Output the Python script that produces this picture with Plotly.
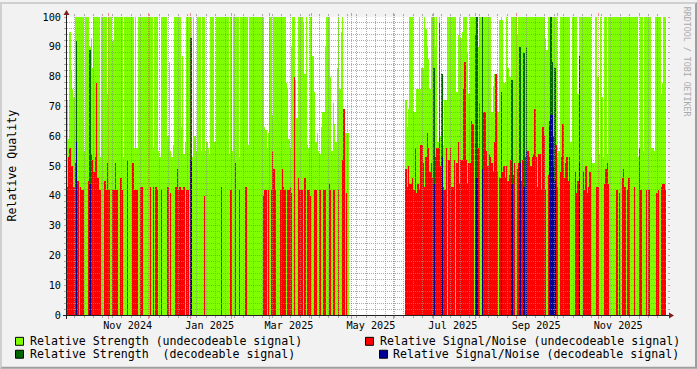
import plotly.graph_objects as go
import pandas as pd

# ---------------- data (daily values) ----------------
START = "2024-10-01"
GAP_DAYS = 42  # 2025-04-29 .. 2025-06-09 : no data

# Relative Strength (undecodeable signal), 2024-10-01 .. 2025-04-28
strength_oct24_apr25 = [
    72, 59, 95, 82, 76, 73, 100, 100, 100, 100,
    100, 100, 100, 55, 100, 100, 100, 90, 93, 83,
    100, 100, 100, 100, 100, 53, 100, 100, 100, 100,
    74, 100, 100, 100, 92, 100, 100, 100, 100, 100,
    100, 100, 53, 100, 100, 100, 100, 100, 100, 100,
    56, 100, 56, 100, 100, 100, 100, 100, 100, 100,
    100, 100, 100, 100, 56, 100, 100, 100, 55, 53,
    100, 100, 100, 100, 100, 60, 85, 55, 53, 57,
    100, 100, 100, 100, 100, 63, 87, 54, 58, 100,
    100, 100, 100, 53, 100, 60, 55, 100, 100, 100,
    55, 100, 100, 55, 58, 56, 54, 100, 100, 100,
    58, 100, 100, 100, 100, 100, 100, 100, 100, 100,
    100, 54, 100, 55, 100, 100, 100, 100, 53, 100,
    100, 100, 100, 100, 100, 57, 100, 100, 100, 100,
    100, 100, 100, 100, 100, 100, 100, 63, 62, 56,
    61, 100, 100, 67, 100, 100, 100, 100, 100, 100,
    100, 100, 100, 78, 76, 59, 56, 90, 100, 100,
    79, 66, 100, 100, 100, 100, 98, 81, 100, 57,
    56, 100, 100, 87, 75, 58, 61, 55, 54, 63,
    68, 68, 90, 100, 100, 100, 80, 55, 71, 64,
    58, 83, 100, 76, 95, 100, 53, 61, 61, 61,
]
# Relative Strength (undecodeable signal), 2025-06-10 .. 2025-12-20
strength_jun25_dec25 = [
    72, 63, 69, 100, 100, 100, 68, 68, 76, 76,
    100, 76, 83, 83, 100, 96, 90, 86, 76, 100,
    100, 100, 90, 100, 58, 100, 60, 81, 57, 72,
    72, 100, 100, 100, 100, 100, 100, 100, 75, 94,
    100, 93, 95, 100, 100, 100, 88, 74, 100, 100,
    100, 100, 100, 100, 90, 100, 100, 100, 100, 100,
    100, 100, 100, 100, 68, 77, 81, 68, 68, 68,
    99, 100, 99, 78, 78, 100, 83, 80, 80, 100,
    100, 100, 100, 94, 100, 100, 100, 100, 100, 100,
    100, 100, 100, 100, 100, 100, 100, 100, 100, 100,
    100, 100, 100, 100, 93, 89, 100, 100, 100, 100,
    100, 100, 100, 53, 55, 100, 100, 100, 100, 100,
    100, 100, 100, 58, 100, 100, 100, 100, 74, 100,
    100, 100, 100, 100, 100, 100, 100, 100, 53, 51,
    51, 100, 100, 80, 54, 100, 73, 53, 100, 100,
    54, 100, 100, 100, 100, 100, 100, 100, 100, 100,
    100, 100, 100, 100, 100, 100, 100, 100, 100, 100,
    100, 100, 100, 53, 53, 100, 100, 55, 100, 100,
    100, 100, 100, 56, 56, 55, 100, 100, 100, 100,
    74, 78, 100, 100,
]
# Relative Signal/Noise (undecodeable signal), 0 = none that day
snr_oct24_apr25 = [
    43, 53, 56, 50, 50, 43, 51, 0, 45, 0,
    43, 42, 42, 0, 0, 0, 45, 0, 54, 52,
    48, 53, 78, 46, 42, 42, 0, 0, 45, 42,
    51, 42, 0, 0, 42, 42, 51, 42, 0, 0,
    46, 42, 0, 0, 0, 52, 0, 0, 0, 51,
    42, 42, 42, 0, 0, 43, 43, 0, 0, 0,
    0, 0, 43, 0, 43, 0, 43, 42, 0, 0,
    42, 0, 0, 0, 0, 43, 0, 41, 0, 0,
    0, 43, 49, 42, 43, 42, 42, 43, 0, 42,
    42, 0, 0, 0, 0, 0, 0, 0, 0, 0,
    0, 0, 40, 0, 0, 0, 0, 0, 0, 0,
    0, 0, 0, 0, 0, 43, 0, 0, 0, 0,
    0, 0, 42, 0, 0, 51, 0, 0, 42, 0,
    0, 0, 0, 43, 0, 0, 0, 0, 0, 0,
    0, 0, 0, 0, 0, 0, 40, 42, 42, 0,
    42, 0, 42, 55, 49, 42, 0, 0, 0, 42,
    49, 43, 42, 0, 42, 42, 43, 41, 0, 80,
    0, 0, 46, 42, 42, 42, 0, 46, 0, 42,
    42, 40, 0, 0, 42, 42, 0, 0, 42, 0,
    0, 42, 42, 0, 0, 44, 42, 0, 42, 42,
    0, 0, 42, 0, 0, 52, 69, 0, 41, 0,
]
snr_jun25_dec25 = [
    49, 43, 50, 44, 44, 46, 42, 56, 41, 44,
    42, 57, 57, 51, 43, 53, 61, 56, 48, 51,
    46, 0, 53, 56, 56, 98, 50, 0, 43, 42,
    56, 0, 52, 56, 43, 43, 52, 0, 51, 58,
    44, 52, 52, 76, 85, 52, 44, 51, 51, 65,
    64, 0, 0, 0, 56, 71, 0, 0, 68, 68,
    55, 50, 54, 53, 51, 48, 58, 81, 48, 0,
    46, 0, 48, 50, 46, 50, 45, 47, 52, 0,
    47, 51, 0, 49, 51, 0, 45, 52, 0, 53,
    0, 55, 53, 50, 53, 54, 69, 53, 43, 54,
    54, 42, 63, 60, 42, 0, 47, 0, 0, 0,
    0, 0, 57, 43, 0, 48, 53, 64, 46, 51,
    53, 45, 53, 0, 0, 0, 48, 41, 45, 55,
    0, 0, 48, 42, 50, 41, 43, 48, 0, 0,
    0, 0, 43, 43, 0, 0, 0, 0, 44, 49,
    51, 44, 0, 0, 0, 0, 0, 42, 0, 41,
    0, 46, 49, 43, 0, 42, 46, 0, 0, 0,
    43, 0, 0, 0, 56, 42, 0, 0, 0, 42,
    0, 42, 0, 0, 0, 0, 0, 41, 42, 0,
    43, 44, 44, 42,
]
# decodeable-signal days (day index from START)
dec_day = [7, 17, 92, 273, 279, 304, 305, 309, 323, 331, 337, 340, 342,
           359, 360, 361, 362, 363, 381]
dec_strength = [92, 89, 93, 83, 81, 94, 100, 100, 75, 79, 90, 88, 90,
                65, 100, 85, 60, 83, 87]
dec_snr = [58, 44, 52, 44, 53, 58, 46, 49, 46, 44, 51, 43, 55,
           63, 67, 67, 50, 45, 51]

x_label_text = ["Nov 2024", "Jan 2025", "Mar 2025", "May 2025",
                "Jul 2025", "Sep 2025", "Nov 2025"]
x_label_at = ["2024-11-15 12:00", "2025-01-15 12:00", "2025-03-15 12:00",
              "2025-05-15 12:00", "2025-07-15 12:00", "2025-09-15 12:00",
              "2025-11-15 12:00"]
y_ticks = [0, 10, 20, 30, 40, 50, 60, 70, 80, 90, 100]

names = ["Relative Strength (undecodeable signal)",
         "Relative Strength  (decodeable signal)",
         "Relative Signal/Noise (undecodeable signal)",
         "Relative Signal/Noise (decodeable signal)"]
C_GREEN, C_DKGREEN, C_RED, C_BLUE = "#80FF00", "#006600", "#FF0000", "#000099"

# ---------------- build ----------------
strength = strength_oct24_apr25 + [None] * GAP_DAYS + strength_jun25_dec25
snr = snr_oct24_apr25 + [None] * GAP_DAYS + snr_jun25_dec25
days = pd.date_range(START, periods=len(strength), freq="D") + pd.Timedelta(hours=12)
day_str = [d.strftime("%Y-%m-%d %H:%M") for d in days]
snr_plot = [v if v else None for v in snr]
dec_x = [day_str[d] for d in dec_day]
DAY_MS = 86400000


def bars(x, y, color):
    return go.Bar(x=x, y=y, width=DAY_MS, xaxis="x", yaxis="y",
                  marker=dict(color=color, line=dict(color=color, width=0.02)),
                  showlegend=False, hoverinfo="skip")


fig = go.Figure()
fig.add_trace(bars(day_str, strength, C_GREEN))
fig.add_trace(bars(dec_x, dec_strength, C_DKGREEN))
fig.add_trace(bars(day_str, snr_plot, C_RED))
fig.add_trace(bars(dec_x, dec_snr, C_BLUE))
# invisible trace so the grid subplot (drawn above the data) exists
fig.add_trace(go.Scatter(x=[day_str[0]], y=[-50], xaxis="x2", yaxis="y2", mode="markers",
                         marker=dict(opacity=0), showlegend=False, hoverinfo="skip"))

W, H = 697, 369
L, T, PW, PH = 67, 15, 600, 300


def px(v):
    return (v - L) / PW


def py(v):
    return (T + PH - v) / PH


GRID = "rgba(143,143,143,0.75)"
MGRID = "rgba(222,79,79,0.6)"
XR = ["2024-10-01 08:00", "2025-12-21 20:00"]
FONT = "DejaVu Sans Mono"

fig.update_layout(
    width=W, height=H,
    margin=dict(l=L, r=W - L - PW, t=T, b=H - T - PH, pad=0),
    paper_bgcolor="#F2F2F2", plot_bgcolor="rgba(0,0,0,0)",
    barmode="overlay", bargap=0, bargroupgap=0,
    font=dict(family=FONT, size=10.2, color="#000000"),
    xaxis=dict(type="date", range=XR, domain=[0, 1], tickmode="array",
               tickvals=x_label_at, ticktext=x_label_text, ticks="",
               showgrid=False, zeroline=False, showline=False,
               ticklabelstandoff=3,
               tickfont=dict(family=FONT, size=10.2, color="#000000")),
    yaxis=dict(range=[0, 100], domain=[0, 1], tickmode="array", tickvals=y_ticks,
               ticks="", showgrid=False, zeroline=False, showline=False,
               ticklabelstandoff=5,
               tickfont=dict(family=FONT, size=10.2, color="#000000")),
    xaxis2=dict(type="date", range=XR, domain=[0, 1], anchor="y2",
                showticklabels=False, tickmode="linear", tick0="2024-10-01",
                dtick="M1", showgrid=True, gridcolor=MGRID, griddash="1px,1px",
                gridwidth=1, ticks="outside", ticklen=3, tickcolor=MGRID,
                tickwidth=1, mirror="ticks", zeroline=False, showline=False,
                minor=dict(tick0="2024-09-30", dtick=7 * DAY_MS, showgrid=True,
                           gridcolor=GRID, griddash="1px,1px", gridwidth=1,
                           ticks="outside", ticklen=2, tickcolor=GRID)),
    yaxis2=dict(range=[0, 100], domain=[0, 1], anchor="x2", showticklabels=False,
                tickmode="linear", tick0=0, dtick=10, showgrid=True,
                gridcolor=MGRID, griddash="1px,1px", gridwidth=1,
                ticks="outside", ticklen=2, tickcolor=MGRID, tickwidth=1,
                mirror="ticks", zeroline=False, showline=False,
                minor=dict(tick0=0, dtick=2, showgrid=True, gridcolor=GRID,
                           griddash="1px,1px", gridwidth=1,
                           ticks="outside", ticklen=2, tickcolor=GRID)),
)

shapes = []


def poly(points, color, layer="above"):
    d = "M " + " L ".join(f"{px(a):.5f},{py(b):.5f}" for a, b in points) + " Z"
    return dict(type="path", path=d, xref="paper", yref="paper",
                fillcolor=color, line=dict(width=0), layer=layer)


# white canvas under everything
shapes.append(dict(type="rect", xref="paper", yref="paper", x0=0, x1=1, y0=0, y1=1,
                   fillcolor="#FFFFFF", line=dict(width=0), layer="below"))

# 3d frame
shapes.append(poly([(0, H), (2, H - 2), (2, 2), (W - 2, 2), (W, 0), (0, 0)], "#CFCFCF"))
shapes.append(poly([(2, H - 2), (W - 2, H - 2), (W - 2, 2), (W, 0), (W, H), (0, H)], "#9E9E9E"))

# axes
AX = "#1F1F1F"
shapes.append(dict(type="line", xref="paper", yref="paper", x0=px(L - 4), x1=px(L + PW + 4),
                   y0=py(T + PH + 0.5), y1=py(T + PH + 0.5), line=dict(color=AX, width=1), layer="above"))
shapes.append(dict(type="line", xref="paper", yref="paper", x0=px(L - 0.5), x1=px(L - 0.5),
                   y0=py(T + PH + 4), y1=py(T - 4), line=dict(color=AX, width=1), layer="above"))
ARROW = "#801F1F"
yo = T + PH + 0.5
shapes.append(poly([(L + PW + 2, yo - 3), (L + PW + 2, yo + 3), (L + PW + 7, yo)], ARROW))
xo = L - 0.5
shapes.append(poly([(xo - 3, T - 2), (xo + 3, T - 2), (xo, T - 7)], ARROW))

# legend boxes + text
legend_items = [
    (15.5, 337.5, 29.6, names[0], C_GREEN),
    (15.5, 350.5, 29.6, names[1], C_DKGREEN),
    (365.5, 337.5, 379.6, names[2], C_RED),
    (379.5, 350.5, 393.2, names[3], C_BLUE),
]
annotations = []
for bx, by, tx, text, col in legend_items:
    shapes.append(dict(type="rect", xref="paper", yref="paper",
                       x0=px(bx), x1=px(bx + 8), y0=py(by), y1=py(by + 8),
                       fillcolor=col, line=dict(color="#000000", width=1), layer="above"))
    annotations.append(dict(text=text, x=px(tx), y=py(by + 4), xref="paper", yref="paper",
                            xanchor="left", yanchor="middle", showarrow=False,
                            borderpad=0, borderwidth=0,
                            font=dict(family=FONT, size=11.6, color="#000000")))

annotations.append(dict(text="Relative Quality", x=px(11.5), y=py(165), xref="paper", yref="paper",
                        textangle=-90, showarrow=False, xanchor="center", yanchor="middle",
                        font=dict(family=FONT, size=11.6, color="#000000")))
annotations.append(dict(text="RRDTOOL / TOBI OETIKER", x=px(687), y=py(60), xref="paper", yref="paper",
                        textangle=90, showarrow=False, xanchor="center", yanchor="middle",
                        font=dict(family=FONT, size=8.3, color="#AAAAAA")))

fig.update_layout(shapes=shapes, annotations=annotations)
fig.write_html("out.html",
               config={"displayModeBar": False, "staticPlot": False},
               post_script="document.body.style.margin='0';document.body.style.padding='0';")
